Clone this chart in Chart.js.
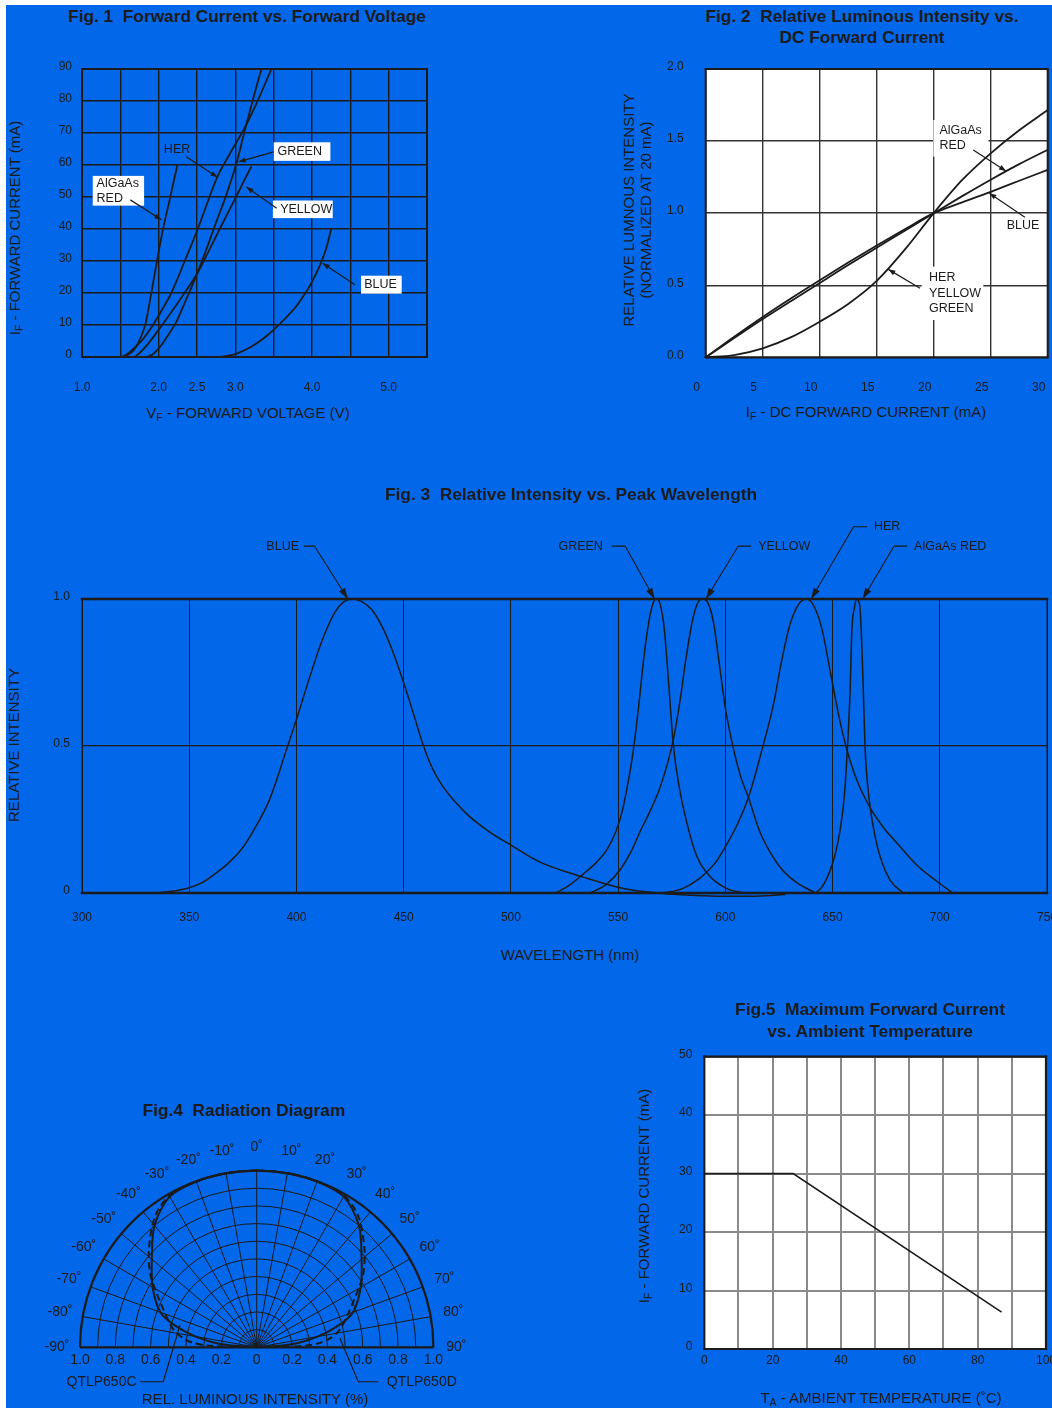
<!DOCTYPE html>
<html><head><meta charset="utf-8">
<script src="https://cdn.jsdelivr.net/npm/chart.js@4.4.1/dist/chart.umd.min.js"></script>
<style>
html,body{margin:0;padding:0;background:#fff;width:1052px;height:1408px;overflow:hidden;}
#wrap{position:absolute;left:0;top:0;width:1052px;height:1408px;overflow:hidden;font-family:"Liberation Sans",Arial,Helvetica,sans-serif;color:#1b1b1b;}
#bg{position:absolute;left:6px;top:5px;right:0;bottom:0;background:#0267e8;}
canvas{position:absolute;}
.t{position:absolute;transform:translate(-50%,-50%);white-space:nowrap;line-height:1.2;}
.ttl{font-weight:bold;font-size:17.3px;text-align:center;line-height:21px;}
.ax{font-size:15px;text-align:center;}
.rot{transform:translate(-50%,-50%) rotate(-90deg);}
sub{font-size:10.5px;vertical-align:-3px;line-height:0;}
</style></head>
<body>
<div id="wrap">
<div id="bg"></div>
<canvas id="c1" width="400" height="345" style="left:40px;top:55px"></canvas>
<canvas id="c2" width="410" height="345" style="left:660px;top:55px"></canvas>
<canvas id="c3" width="1040" height="440" style="left:30px;top:500px"></canvas>
<canvas id="c4" width="460" height="278" style="left:30px;top:1130px"></canvas>
<canvas id="c5" width="410" height="345" style="left:660px;top:1040px"></canvas>

<div class="t ttl" style="left:247px;top:16px">Fig. 1&nbsp;&nbsp;Forward Current vs. Forward Voltage</div>
<div class="t ax" style="left:248px;top:413px">V<sub>F</sub> - FORWARD VOLTAGE (V)</div>
<div class="t ax rot" style="left:15px;top:228px">I<sub>F</sub> - FORWARD CURRENT (mA)</div>

<div class="t ttl" style="left:862px;top:26.5px">Fig. 2&nbsp;&nbsp;Relative Luminous Intensity vs.<br>DC Forward Current</div>
<div class="t ax" style="left:866px;top:412px">I<sub>F</sub> - DC FORWARD CURRENT (mA)</div>
<div class="t ax rot" style="left:636.5px;top:210px;line-height:17px">RELATIVE LUMNOUS INTENSITY<br>(NORMALIZED AT 20 mA)</div>

<div class="t ttl" style="left:571px;top:494px">Fig. 3&nbsp;&nbsp;Relative Intensity vs. Peak Wavelength</div>
<div class="t ax" style="left:570px;top:955px">WAVELENGTH (nm)</div>
<div class="t ax rot" style="left:14px;top:745px">RELATIVE INTENSITY</div>

<div class="t ttl" style="left:244px;top:1110px">Fig.4&nbsp;&nbsp;Radiation Diagram</div>
<div class="t ax" style="left:255px;top:1399px">REL. LUMINOUS INTENSITY (%)</div>

<div class="t ttl" style="left:870px;top:1020px;line-height:22px">Fig.5&nbsp;&nbsp;Maximum Forward Current<br>vs. Ambient Temperature</div>
<div class="t ax" style="left:881px;top:1398px">T<sub>A</sub> - AMBIENT TEMPERATURE (˚C)</div>
<div class="t ax rot" style="left:644px;top:1196px">I<sub>F</sub> - FORWARD CURRENT (mA)</div>
</div>

<script>
// ================= DATA =================
// Fig.1  Forward current (mA) vs forward voltage (V)
const fig1_red_V    = [1.51,1.6,1.68,1.74,1.79,1.83,1.904,1.978,2.057,2.152,2.243];
const fig1_red_I    = [0,0.7,2.3,4.8,7.5,10.5,20,30,40,50,60];
const fig1_her_V    = [1.53,1.62,1.7,1.774,1.85,1.926,2.05,2.165,2.34,2.51,2.64,2.76,2.94,3.12,3.3,3.47];
const fig1_her_I    = [0,1.5,3.2,5,7.3,10,15,20,30,40,48.5,56,64,71.5,80.5,90];
const fig1_green_V  = [1.84,1.92,2.013,2.1,2.23,2.35,2.5,2.62,2.74,2.88,3.02,3.12,3.23,3.34];
const fig1_green_I  = [0,0.8,3,6,11,17.5,26,33.5,41.5,50.5,61,70.5,80.5,90];
const fig1_yellow_V = [1.687,1.75,1.85,2.0,2.15,2.3,2.5,2.65,2.796,3.0,3.209];
const fig1_yellow_I = [0,1.2,3.8,8.5,13.5,18.7,26,33,40,49.6,59.6];
const fig1_blue_V   = [2.8,3.0,3.2,3.4,3.6,3.8,3.9,4.0,4.1,4.18,4.25];
const fig1_blue_I   = [0,0.9,3.1,6.4,10.8,16,19.5,23.5,28.5,33.5,40];
const fig1XTickLabels = ['1.0','2.0','2.5','3.0','4.0','5.0'];

// Fig.2  Relative luminous intensity vs DC forward current (mA)
const fig2_current = [0,2.5,5,7.5,10,12.5,15,17.5,20,22.5,25,27.5,30];
const fig2_herYellowGreen = [0,0.015,0.062,0.14,0.247,0.37,0.53,0.75,1.0,1.23,1.415,1.575,1.715];
const fig2_algaasRed = [0,0.133,0.265,0.39,0.515,0.64,0.76,0.88,1.0,1.118,1.232,1.34,1.44];
const fig2_blue      = [0,0.143,0.28,0.41,0.535,0.657,0.775,0.89,1.0,1.075,1.148,1.225,1.30];

// Fig.3  Relative intensity vs wavelength (nm)
const fig3_blue_nm  = [334,342,350,356,362,368,375,381,387,391,395,400,406,412,418,422,426,430,435,440,445,450,455,459,463,468,474,480,490,500,513.6,533.8,552.5,571,585,597.6,612,628];
const fig3_blue_val = [0,0.006,0.018,0.035,0.065,0.1,0.155,0.225,0.31,0.39,0.48,0.59,0.73,0.86,0.955,0.99,1.0,0.993,0.965,0.905,0.82,0.715,0.6,0.505,0.43,0.365,0.31,0.265,0.208,0.163,0.105,0.054,0.015,-0.002,-0.008,-0.011,-0.011,-0.005];
const fig3_green_nm  = [521,527,534,540,545,549,552,554.5,557,559.5,562,564.5,566.5,568,569.5,571.5,573.5,575.8,578.5,582,586.7,593,600.7,608.5];
const fig3_green_val = [0,0.025,0.066,0.105,0.15,0.21,0.28,0.37,0.48,0.63,0.8,0.93,0.99,1.0,0.985,0.9,0.72,0.5,0.36,0.24,0.125,0.055,0.015,0];
const fig3_yellow_nm  = [537,544.7,551,556,560.3,565,569.6,573,576,579,581.5,584.5,587,589.5,592,594.5,597,600,603.8,607,611,616,622.4,627,633.3,642];
const fig3_yellow_val = [0,0.03,0.08,0.14,0.21,0.28,0.36,0.44,0.53,0.66,0.79,0.92,0.985,1.0,0.985,0.92,0.79,0.63,0.49,0.4,0.32,0.21,0.12,0.075,0.035,0];
const fig3_her_nm  = [571,580,588,595,601,606,611,617,622.4,626,630,634,637.7,641,645,649,653,656.6,661,667.5,674,680,690,698.6,706];
const fig3_her_val = [0,0.015,0.05,0.1,0.17,0.24,0.33,0.485,0.64,0.78,0.91,0.98,1.0,0.98,0.9,0.75,0.6,0.49,0.39,0.29,0.22,0.17,0.09,0.04,0];
const fig3_red_nm  = [641.9,645,648.9,651.5,653.5,655.5,656.7,658.2,659,660.2,661.3,662.3,662.9,664.1,665.2,666.3,667.5,669.9,672.2,676.9,683];
const fig3_red_val = [0,0.02,0.077,0.14,0.213,0.33,0.463,0.69,0.894,0.97,1.0,0.99,0.963,0.747,0.486,0.372,0.293,0.19,0.123,0.043,0];
const fig3YTickValues = [0,0.5,1];
const fig3YTickText   = ['0','0.5','1.0'];

// Fig.4  Radiation diagram (angle in degrees, relative intensity)
const fig4_C_angle = [-90,-85,-80,-75,-70,-60,-50,-40,-30,-20,-10,0,10,20,30,40,50,60,70,75,80,85,90];
const fig4_C_r     = [0,0.2,0.35,0.48,0.58,0.68,0.775,0.9,0.985,0.998,1,1,1,0.998,0.985,0.9,0.775,0.68,0.58,0.48,0.35,0.2,0];
const fig4_D_angle = [-89.5,-88,-86,-83,-78,-68,-56,-48,-38,-30,-20,-10,0,10,20,30,38,48,56,68,78,83,86,88,89.5];
const fig4_D_r     = [0.12,0.28,0.36,0.418,0.481,0.569,0.724,0.821,0.936,0.99,1,1,1,1,1,0.99,0.936,0.821,0.724,0.569,0.481,0.418,0.36,0.28,0.12];
const fig4RingRadii  = [0.1,0.2,0.3,0.4,0.5,0.6,0.7,0.8,0.9,1.0];
const fig4SpokeAngles = [-90,-80,-70,-60,-50,-40,-30,-20,-10,0,10,20,30,40,50,60,70,80,90];
const fig4AngleText   = ['-90˚','-80˚','-70˚','-60˚','-50˚','-40˚','-30˚','-20˚','-10˚','0˚','10˚','20˚','30˚','40˚','50˚','60˚','70˚','80˚','90˚'];
const fig4TickText    = ['1.0','0.8','0.6','0.4','0.2','0','0.2','0.4','0.6','0.8','1.0'];

// Fig.5  Maximum forward current (mA) vs ambient temperature (°C)
const fig5_temp    = [0,26,87];
const fig5_current = [30,30,6.3];
const fig5XTickText = ['0','20','40','60','80','100'];

// ================= RENDERING =================
const INK = '#1b1b1b';
const NONE = 'rgba(0,0,0,0)';
Chart.defaults.font.family = '"Liberation Sans", Arial, Helvetica, sans-serif';
Chart.defaults.font.size = 12;
Chart.defaults.color = INK;
Chart.defaults.animation = false;
Chart.defaults.plugins.legend.display = false;
Chart.defaults.plugins.tooltip.enabled = false;
Chart.defaults.elements.point.radius = 0;

const pts = (xs, ys) => xs.map((x, i) => ({x: x, y: ys[i]}));
const line = (xs, ys, w, extra) => Object.assign({
  data: pts(xs, ys), borderColor: INK, borderWidth: w, fill: false, pointRadius: 0,
  cubicInterpolationMode: 'monotone', clip: false
}, extra || {});

const FRAME = {};
const ANNOT = {};

const framePlugin = {
  id: 'frameDeco',
  beforeDraw(chart) {
    const o = FRAME[chart.canvas.id]; if (!o || !o.fill) return;
    const a = chart.chartArea, c = chart.ctx;
    c.save(); c.fillStyle = o.fill; c.fillRect(a.left, a.top, a.right - a.left, a.bottom - a.top); c.restore();
  },
  afterDatasetsDraw(chart) {
    const o = FRAME[chart.canvas.id]; if (!o) return;
    const a = chart.chartArea, c = chart.ctx;
    c.save(); c.strokeStyle = o.color || INK; c.lineCap = 'square';
    const seg = (w, x1, y1, x2, y2) => { if (!w) return; c.lineWidth = w; c.beginPath(); c.moveTo(x1, y1); c.lineTo(x2, y2); c.stroke(); };
    seg(o.top, a.left, a.top, a.right, a.top);
    seg(o.bottom, a.left, a.bottom, a.right, a.bottom);
    seg(o.left, a.left, a.top, a.left, a.bottom);
    seg(o.right, a.right, a.top, a.right, a.bottom);
    c.restore();
  }
};

function arrowHead(c, x1, y1, x2, y2, len, wid) {
  const a = Math.atan2(y2 - y1, x2 - x1), ca = Math.cos(a), sa = Math.sin(a);
  c.beginPath();
  c.moveTo(x2, y2);
  c.lineTo(x2 - len * ca + wid * sa, y2 - len * sa - wid * ca);
  c.lineTo(x2 - len * ca - wid * sa, y2 - len * sa + wid * ca);
  c.closePath(); c.fill();
}

const annotPlugin = {
  id: 'annotDeco',
  beforeDatasetsDraw(chart) {
    const o = ANNOT[chart.canvas.id]; if (!o) return;
    const X = v => chart.scales.x.getPixelForValue(v), Y = v => chart.scales.y.getPixelForValue(v);
    const c = chart.ctx; c.save(); c.fillStyle = '#ffffff';
    o.items.forEach(it => {
      if (!it.box) return;
      const [x0, y0, x1, y1] = it.box;
      c.fillRect(X(x0), Y(y0), X(x1) - X(x0), Y(y1) - Y(y0));
    });
    c.restore();
  },
  afterDatasetsDraw(chart) {
    const o = ANNOT[chart.canvas.id]; if (!o) return;
    const X = v => chart.scales.x.getPixelForValue(v), Y = v => chart.scales.y.getPixelForValue(v);
    const c = chart.ctx; c.save();
    c.strokeStyle = INK; c.fillStyle = INK; c.lineWidth = o.lineWidth || 1.2;
    c.font = (o.fontSize || 12) + 'px "Liberation Sans", Arial, sans-serif';
    c.textBaseline = 'middle';
    o.items.forEach(it => {
      if (it.path) {
        c.beginPath();
        it.path.forEach((p, i) => { const px = X(p[0]), py = Y(p[1]); if (i) c.lineTo(px, py); else c.moveTo(px, py); });
        c.stroke();
        if (it.arrow !== false) {
          const n = it.path.length, p1 = it.path[n - 2], p2 = it.path[n - 1];
          arrowHead(c, X(p1[0]), Y(p1[1]), X(p2[0]), Y(p2[1]), o.headLen || 7, o.headWid || 2.6);
        }
      }
      (it.texts || []).forEach(t => { c.textAlign = t[3] || 'left'; c.fillText(t[0], X(t[1]), Y(t[2])); });
    });
    c.restore();
  }
};

// label distance is produced with invisible tick marks so it does not enlarge the layout padding
function xAxis(min, max, step, h, dist, cb, gridColor, gridW, tickExtra) {
  return {
    type: 'linear', min: min, max: max,
    afterFit: s => { s.height = h; },
    ticks: Object.assign({stepSize: step, autoSkip: false, maxRotation: 0, minRotation: 0, padding: 0, callback: cb}, tickExtra || {}),
    grid: {color: gridColor, lineWidth: gridW, drawTicks: true, tickLength: dist, tickColor: NONE},
    border: {display: false}
  };
}
function yAxis(min, max, step, w, dist, cb, gridColor, gridW, tickExtra) {
  return {
    type: 'linear', min: min, max: max,
    afterFit: s => { s.width = w; },
    ticks: Object.assign({stepSize: step, autoSkip: false, padding: 0, callback: cb, labelOffset: -2}, tickExtra || {}),
    grid: {color: gridColor, lineWidth: gridW, drawTicks: true, tickLength: dist, tickColor: NONE},
    border: {display: false}
  };
}

// ---------- Fig.1 ----------
FRAME.c1 = {color: INK, top: 2, bottom: 2, left: 2, right: 2};
ANNOT.c1 = {fontSize: 12.5, items: [
  {texts: [['HER', 2.24, 64.7, 'center']], path: [[2.36, 62.6], [2.768, 56.2]]},
  {box: [3.50, 67.1, 4.24, 61.3], texts: [['GREEN', 3.55, 64.2, 'left']], path: [[3.50, 64.1], [3.042, 61.0]]},
  {box: [1.14, 56.6, 1.81, 47.3], texts: [['AlGaAs', 1.19, 54.3, 'left'], ['RED', 1.19, 49.6, 'left']], path: [[1.63, 49.1], [2.035, 42.9]]},
  {box: [3.49, 48.9, 4.27, 43.4], texts: [['YELLOW', 3.585, 46.1, 'left']], path: [[3.54, 46.5], [3.143, 53.1]]},
  {box: [4.64, 25.4, 5.17, 19.8], texts: [['BLUE', 4.68, 22.6, 'left']], path: [[4.56, 22.6], [4.14, 29.3]]}
]};
new Chart(document.getElementById('c1'), {
  type: 'line',
  data: {datasets: [
    line(fig1_red_V, fig1_red_I, 1.8),
    line(fig1_her_V, fig1_her_I, 1.8),
    line(fig1_green_V, fig1_green_I, 1.8),
    line(fig1_yellow_V, fig1_yellow_I, 1.8),
    line(fig1_blue_V, fig1_blue_I, 1.8)
  ]},
  options: {
    responsive: false,
    layout: {padding: {top: 14, right: 13, bottom: 3, left: 0}},
    scales: {
      x: xAxis(1, 5.5, 0.5, 40, 23, v => { const s = Number(v).toFixed(1); return fig1XTickLabels.includes(s) ? s : ''; }, INK, 1.4),
      y: yAxis(0, 90, 10, 42, 10, v => String(v), INK, 1.4)
    }
  },
  plugins: [framePlugin, annotPlugin]
});

// ---------- Fig.2 ----------
FRAME.c2 = {fill: '#ffffff', color: INK, top: 2, bottom: 2, left: 2, right: 2};
ANNOT.c2 = {fontSize: 12.5, items: [
  {box: [19.97, 1.646, 24.8, 1.392], texts: [['AlGaAs', 20.5, 1.572, 'left'], ['RED', 20.5, 1.468, 'left']], path: [[23.47, 1.438], [26.34, 1.292]]},
  {texts: [['BLUE', 26.4, 0.913, 'left']], path: [[28.0, 0.971], [24.88, 1.138]]},
  {box: [18.95, 0.629, 24.35, 0.259], texts: [['HER', 19.59, 0.555, 'left'], ['YELLOW', 19.59, 0.444, 'left'], ['GREEN', 19.59, 0.340, 'left']], path: [[18.8, 0.479], [16.02, 0.610]]}
]};
new Chart(document.getElementById('c2'), {
  type: 'line',
  data: {datasets: [
    line(fig2_current, fig2_herYellowGreen, 1.8),
    line(fig2_current, fig2_algaasRed, 1.8),
    line(fig2_current, fig2_blue, 1.8)
  ]},
  options: {
    responsive: false,
    layout: {padding: {top: 14, right: 22.3, bottom: 2.7, left: 0}},
    scales: {
      x: xAxis(0, 30, 5, 40, 23, v => String(v), '#333333', 1.4, {labelOffset: -9}),
      y: yAxis(0, 2, 0.5, 45.7, 22, v => Number(v).toFixed(1), '#333333', 1.4)
    }
  },
  plugins: [framePlugin, annotPlugin]
});

// ---------- Fig.3 ----------
FRAME.c3 = {color: INK, top: 2.5, bottom: 2.5, left: 1, right: 1};
ANNOT.c3 = {fontSize: 12.5, headLen: 11, headWid: 3.5, lineWidth: 1.1, items: [
  {texts: [['BLUE', 401.2, 1.18, 'right']], path: [[403.4, 1.18], [408.4, 1.18], [424, 1.0]]},
  {texts: [['GREEN', 542.9, 1.18, 'right']], path: [[547, 1.18], [553.3, 1.18], [567, 1.0]]},
  {texts: [['YELLOW', 615.3, 1.18, 'left']], path: [[612, 1.18], [606, 1.18], [591, 1.0]]},
  {texts: [['HER', 669.3, 1.246, 'left']], path: [[666.1, 1.246], [659.8, 1.246], [640, 1.0]]},
  {texts: [['AlGaAs RED', 688, 1.18, 'left']], path: [[684.8, 1.18], [678.7, 1.18], [664, 1.0]]}
]};
new Chart(document.getElementById('c3'), {
  type: 'line',
  data: {datasets: [
    line(fig3_blue_nm, fig3_blue_val, 1.5),
    line(fig3_green_nm, fig3_green_val, 1.5),
    line(fig3_yellow_nm, fig3_yellow_val, 1.5),
    line(fig3_her_nm, fig3_her_val, 1.5),
    line(fig3_red_nm, fig3_red_val, 1.5)
  ]},
  options: {
    responsive: false,
    layout: {padding: {top: 99, right: 23, bottom: 7, left: 0}},
    scales: {
      x: xAxis(300, 750, 50, 40, 17, v => String(v), INK, 1),
      y: yAxis(0, 1, 0.5, 52, 12, v => { const i = fig3YTickValues.indexOf(Number(v)); return i >= 0 ? fig3YTickText[i] : ''; },
        ctx => (ctx.tick && ctx.tick.value === 0.5) ? INK : NONE, 1.2)
    }
  },
  plugins: [framePlugin, annotPlugin]
});

// ---------- Fig.4 ----------
const polarPlugin = {
  id: 'polarDeco',
  beforeDatasetsDraw(chart) {
    const xs = chart.scales.x, ys = chart.scales.y, c = chart.ctx;
    const cx = xs.getPixelForValue(0), cy = ys.getPixelForValue(0), R = xs.getPixelForValue(1) - cx;
    c.save(); c.strokeStyle = INK;
    fig4RingRadii.forEach(r => {
      c.lineWidth = r >= 1 ? 2.2 : 1;
      c.beginPath(); c.arc(cx, cy, r * R, Math.PI, 2 * Math.PI); c.stroke();
    });
    c.lineWidth = 1;
    fig4SpokeAngles.forEach(a => {
      const t = a * Math.PI / 180;
      c.beginPath(); c.moveTo(cx, cy); c.lineTo(cx + R * Math.sin(t), cy - R * Math.cos(t)); c.stroke();
    });
    c.lineWidth = 2.2;
    c.beginPath(); c.moveTo(xs.getPixelForValue(-1), cy); c.lineTo(xs.getPixelForValue(1), cy); c.stroke();
    c.restore();
  },
  afterDraw(chart) {
    const xs = chart.scales.x, ys = chart.scales.y, c = chart.ctx;
    const cx = xs.getPixelForValue(0), cy = ys.getPixelForValue(0), R = xs.getPixelForValue(1) - cx;
    c.save(); c.fillStyle = INK; c.font = '14px "Liberation Sans", Arial, sans-serif';
    c.textAlign = 'center'; c.textBaseline = 'middle';
    fig4SpokeAngles.forEach((a, i) => {
      const t = a * Math.PI / 180, rr = 1.13 * R;
      c.fillText(fig4AngleText[i], cx + rr * Math.sin(t), cy - rr * Math.cos(t));
    });
    c.restore();
  }
};
const polarPts = (angles, radii) => angles.map((a, i) => ({
  x: radii[i] * Math.sin(a * Math.PI / 180), y: radii[i] * Math.cos(a * Math.PI / 180)
}));
ANNOT.c4 = {fontSize: 14, lineWidth: 1.2, items: [
  {texts: [['QTLP650C', -0.68, -0.195, 'right']], path: [[-0.66, -0.195], [-0.529, -0.195], [-0.434, 0.126]], arrow: false},
  {texts: [['QTLP650D', 0.736, -0.195, 'left']], path: [[0.688, -0.195], [0.575, -0.195], [0.471, 0.051]], arrow: false}
]};
new Chart(document.getElementById('c4'), {
  type: 'scatter',
  data: {datasets: [
    {data: polarPts(fig4_C_angle, fig4_C_r), showLine: true, tension: 0.3, borderColor: INK, borderWidth: 2, pointRadius: 0, clip: false},
    {data: polarPts(fig4_D_angle, fig4_D_r), showLine: true, tension: 0.3, borderColor: INK, borderWidth: 2, borderDash: [7, 4], pointRadius: 0, clip: false}
  ]},
  options: {
    responsive: false,
    layout: {padding: {top: 40.6, right: 56.6, bottom: 30.7, left: 50}},
    scales: {
      x: {type: 'linear', min: -1, max: 1, afterFit: s => { s.height = 30; },
          ticks: {stepSize: 0.2, autoSkip: false, maxRotation: 0, padding: 0, font: {size: 14}, callback: (v, i) => fig4TickText[i]},
          grid: {display: true, color: NONE, drawOnChartArea: false, drawTicks: true, tickLength: 4, tickColor: NONE}, border: {display: false}},
      y: {type: 'linear', min: 0, max: 1, display: false}
    }
  },
  plugins: [polarPlugin, annotPlugin]
});

// ---------- Fig.5 ----------
FRAME.c5 = {fill: '#ffffff', color: INK, top: 2.2, bottom: 2.2, left: 2.2, right: 2.2};
new Chart(document.getElementById('c5'), {
  type: 'line',
  data: {datasets: [line(fig5_temp, fig5_current, 1.6, {cubicInterpolationMode: 'default', tension: 0})]},
  options: {
    responsive: false,
    layout: {padding: {top: 16.7, right: 24, bottom: 11, left: 0}},
    scales: {
      x: xAxis(0, 100, 10, 25, 4, v => { const s = String(v); return fig5XTickText.includes(s) ? s : ''; }, '#8a8a8a', 2),
      y: yAxis(0, 50, 10, 44.3, 12, v => String(v), '#8a8a8a', 2)
    }
  },
  plugins: [framePlugin]
});
</script>
</body></html>
